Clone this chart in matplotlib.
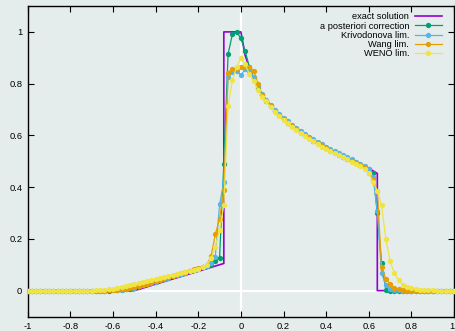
import numpy as np
import matplotlib
matplotlib.use("Agg")
import matplotlib.pyplot as plt

plt.rcParams["font.family"] = ["Liberation Sans", "DejaVu Sans"]

# ============================================================
# DATA
# ============================================================

# malla de puntos: -1.00, -0.98, ..., 1.00
x_cells = np.round(np.arange(-1.0, 1.0001, 0.02), 2)

# solucion exacta (vertices de la curva)
exact_x = [-1.0, -0.5, -0.08, -0.08, 0.0,
           0.02, 0.04, 0.06, 0.08, 0.10, 0.12, 0.14, 0.16, 0.18, 0.20,
           0.22, 0.24, 0.26, 0.28, 0.30, 0.32, 0.34, 0.36, 0.38, 0.40,
           0.42, 0.44, 0.46, 0.48, 0.50, 0.52, 0.54, 0.56, 0.58, 0.60,
           0.62, 0.64, 0.64, 1.0]
exact_y = [0.0, 0.0, 0.105, 1.0, 1.0,
           0.91, 0.86, 0.82, 0.785, 0.757, 0.735, 0.715, 0.697, 0.68, 0.665,
           0.651, 0.638, 0.626, 0.614, 0.603, 0.592, 0.582, 0.572, 0.562, 0.553,
           0.544, 0.536, 0.528, 0.520, 0.512, 0.504, 0.497, 0.489, 0.481, 0.472,
           0.463, 0.453, 0.0, 0.0]

# valores numericos de x = -1.00 ... -0.72 (todos cero)
left_zeros = [0.0] * 15
# valores numericos de x = 0.92 ... 1.00
right_zeros = [0.0] * 5

# x = -0.70 ... 0.90
post_mid = [0.0, 0.0, 0.0, 0.0, 0.0, 0.001, 0.002, 0.003, 0.005, 0.008,
            0.011, 0.015, 0.02, 0.025, 0.03, 0.035, 0.04, 0.045, 0.05, 0.055,
            0.06, 0.065, 0.07, 0.075, 0.08, 0.085, 0.09, 0.095, 0.10, 0.115,
            0.128, 0.49, 0.915, 0.99, 1.0, 0.975, 0.925, 0.865, 0.82, 0.785,
            0.755, 0.733, 0.713, 0.695, 0.678, 0.663, 0.649, 0.636, 0.624, 0.612,
            0.601, 0.590, 0.580, 0.570, 0.560, 0.551, 0.542, 0.534, 0.526, 0.518,
            0.510, 0.502, 0.495, 0.487, 0.479, 0.470, 0.455, 0.30, 0.105, 0.004,
            0.0, 0.0, 0.0, 0.0, 0.0, 0.0, 0.0, 0.0, 0.0, 0.0, 0.0]

kriv_mid = [0.0, 0.0, 0.0, 0.0, 0.001, 0.002, 0.003, 0.004, 0.006, 0.009,
            0.012, 0.016, 0.02, 0.025, 0.03, 0.035, 0.04, 0.045, 0.05, 0.055,
            0.06, 0.065, 0.07, 0.075, 0.08, 0.085, 0.09, 0.096, 0.105, 0.13,
            0.333, 0.42, 0.824, 0.845, 0.85, 0.833, 0.855, 0.85, 0.825, 0.79,
            0.76, 0.738, 0.718, 0.70, 0.683, 0.668, 0.654, 0.641, 0.629, 0.617,
            0.606, 0.595, 0.585, 0.575, 0.565, 0.556, 0.547, 0.539, 0.531, 0.523,
            0.515, 0.507, 0.499, 0.491, 0.482, 0.47, 0.44, 0.307, 0.068, 0.02,
            0.008, 0.003, 0.001, 0.0, 0.0, 0.0, 0.0, 0.0, 0.0, 0.0, 0.0]

wang_mid = [0.0, 0.0, 0.0, 0.0, 0.001, 0.002, 0.003, 0.005, 0.007, 0.01,
            0.013, 0.017, 0.022, 0.027, 0.032, 0.037, 0.042, 0.047, 0.052, 0.057,
            0.062, 0.067, 0.072, 0.077, 0.082, 0.087, 0.093, 0.10, 0.133, 0.217,
            0.278, 0.388, 0.843, 0.857, 0.86, 0.865, 0.87, 0.866, 0.85, 0.80,
            0.757, 0.733, 0.712, 0.694, 0.677, 0.662, 0.648, 0.635, 0.623, 0.611,
            0.600, 0.589, 0.579, 0.569, 0.559, 0.550, 0.541, 0.533, 0.525, 0.517,
            0.509, 0.501, 0.493, 0.485, 0.476, 0.456, 0.43, 0.385, 0.09, 0.045,
            0.025, 0.012, 0.006, 0.003, 0.001, 0.0, 0.0, 0.0, 0.0, 0.0, 0.0]

weno_mid = [0.0, 0.001, 0.002, 0.003, 0.005, 0.007, 0.01, 0.013, 0.016, 0.02,
            0.024, 0.028, 0.032, 0.036, 0.04, 0.044, 0.048, 0.052, 0.056, 0.06,
            0.064, 0.068, 0.072, 0.076, 0.08, 0.084, 0.09, 0.10, 0.125, 0.17,
            0.235, 0.33, 0.712, 0.814, 0.863, 0.90, 0.875, 0.837, 0.81, 0.776,
            0.75, 0.731, 0.71, 0.692, 0.675, 0.66, 0.646, 0.633, 0.621, 0.609,
            0.598, 0.587, 0.577, 0.567, 0.557, 0.548, 0.539, 0.531, 0.523, 0.515,
            0.507, 0.499, 0.491, 0.482, 0.47, 0.455, 0.42, 0.385, 0.33, 0.2,
            0.114, 0.068, 0.04, 0.023, 0.014, 0.009, 0.006, 0.004, 0.003, 0.002, 0.001]

post_y = left_zeros + post_mid + right_zeros
kriv_y = left_zeros + kriv_mid + right_zeros
wang_y = left_zeros + wang_mid + right_zeros
weno_y = left_zeros + weno_mid + right_zeros

labels = ["exact solution", "a posteriori correction",
          "Krivodonova lim.", "Wang lim.", "WENO lim."]
colors = ["#9400d3", "#009e73", "#56b4e9", "#e69f00", "#f0e442"]

xticks = [-1, -0.8, -0.6, -0.4, -0.2, 0, 0.2, 0.4, 0.6, 0.8, 1]
xtick_labels = ["-1", "-0.8", "-0.6", "-0.4", "-0.2", "0",
                "0.2", "0.4", "0.6", "0.8", "1"]
yticks = [0, 0.2, 0.4, 0.6, 0.8, 1]
ytick_labels = ["0", "0.2", "0.4", "0.6", "0.8", "1"]

# ============================================================
# FIGURA
# ============================================================

bg = "#e5ecec"
fig = plt.figure(figsize=(4.55, 3.31), dpi=100, facecolor=bg)
ax = fig.add_axes([0.0609, 0.0438, 0.937, 0.938], facecolor=bg)

ax.axhline(0, color="white", lw=1.6, zorder=1)
ax.axvline(0, color="white", lw=1.6, zorder=1)

ax.plot(exact_x, exact_y, color=colors[0], lw=1.2, label=labels[0], zorder=2)

series = [post_y, kriv_y, wang_y, weno_y]
for k, ys in enumerate(series):
    ax.plot(x_cells, ys, color=colors[k + 1], lw=0.9, marker="o",
            markersize=3.8, markeredgewidth=0, label=labels[k + 1], zorder=3 + k)

ax.set_xlim(-1, 1)
ax.set_ylim(-0.1, 1.1)
ax.set_xticks(xticks)
ax.set_xticklabels(xtick_labels)
ax.set_yticks(yticks)
ax.set_yticklabels(ytick_labels)
ax.tick_params(direction="in", top=True, right=True, length=4, width=0.8,
               labelsize=6.7, colors="black", pad=4)
# la ultima etiqueta queda en el borde derecho de la imagen
ax.get_xticklabels()[-1].set_horizontalalignment("right")
for s in ax.spines.values():
    s.set_linewidth(1.0)
    s.set_color("black")

leg = ax.legend(loc="upper right", bbox_to_anchor=(0.972, 0.98),
                frameon=False, markerfirst=False, numpoints=1,
                fontsize=6.7, handlelength=2.95, handletextpad=0.57,
                labelspacing=0.03, borderpad=0, borderaxespad=0)

fig.savefig("out.png", dpi=100, facecolor=bg)
